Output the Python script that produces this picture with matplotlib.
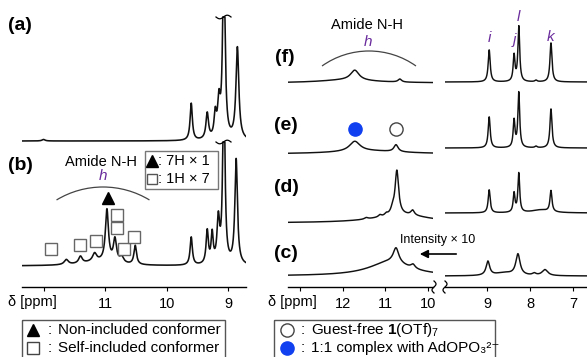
import numpy as np
import matplotlib.pyplot as plt
from matplotlib.patches import Arc, Rectangle

plt.rcParams['font.family'] = ['Liberation Sans', 'DejaVu Sans']
plt.rcParams['mathtext.fontset'] = 'custom'
plt.rcParams['mathtext.rm'] = 'Liberation Sans'
plt.rcParams['mathtext.it'] = 'Liberation Sans:italic'
plt.rcParams['mathtext.bf'] = 'Liberation Sans:bold'

# peak lists: (ppm, height, half width in ppm)
spec_a = [(12.0, 1.5, 0.03), (9.60, 37, 0.022), (9.34, 26, 0.025), (9.21, 23, 0.022),
          (9.15, 34, 0.025), (9.07, 200, 0.022), (8.85, 92, 0.028)]
spec_b = [(11.1, 4, 0.35), (11.63, 5, 0.04), (11.40, 7, 0.035), (11.17, 8, 0.04),
          (10.97, 52, 0.03), (10.84, 23, 0.03), (10.73, 6, 0.04), (10.51, 19, 0.025),
          (9.60, 28, 0.022), (9.34, 33, 0.022), (9.26, 29, 0.02), (9.16, 43, 0.025),
          (9.07, 200, 0.02), (8.87, 105, 0.025)]

# right panel: amide region (x10 for c) and aromatic region
f_nh = [(11.9, 3, 0.8), (11.72, 10, 0.12), (10.66, 3, 0.05)]
f_ar = [(8.95, 32, 0.028), (8.37, 26, 0.025), (8.26, 55, 0.025), (7.86, 1.5, 0.03), (7.51, 39, 0.028)]
e_nh = [(11.4, 3, 1.0), (11.72, 10, 0.15), (10.75, 7, 0.06)]
e_ar = [(8.95, 31, 0.028), (8.37, 27, 0.025), (8.26, 55, 0.025), (7.86, 1.5, 0.03), (7.51, 39, 0.028)]
d_nh = [(10.6, 8, 0.8), (11.45, 1.5, 0.05), (11.13, 2, 0.04), (10.98, 2, 0.04),
        (10.83, 5, 0.05), (10.73, 44, 0.05), (10.36, 5, 0.05)]
d_ar = [(8.95, 23, 0.028), (8.37, 19, 0.025), (8.26, 39, 0.025), (7.75, 3, 0.25), (7.51, 21, 0.028)]
c_nh = [(10.9, 14, 0.6), (10.75, 15, 0.08), (10.35, 4, 0.06)]
c_ar = [(8.98, 14, 0.05), (8.6, 3, 0.25), (8.28, 21, 0.06), (7.9, 2, 0.05), (7.65, 6, 0.08)]

amide_sq_ppm = [11.88, 11.41, 11.15, 10.81, 10.81, 10.69, 10.53]
amide_sq_y = [38, 42, 46, 72, 59, 38, 50]
proton_labels = ['i', 'j', 'l', 'k']
proton_ppm = [8.95, 8.37, 8.27, 7.51]
proton_y = [249, 247, 270, 250]

W, H = 587, 357
AX_Y = 287          # pixel row of the ppm axis
CLIP = 124


def lorentz(x, peaks):
    y = np.zeros_like(x)
    for p, h, w in peaks:
        y += h / (1 + ((x - p) / w) ** 2)
    return y


def px_axes(x0, x1, lim):
    ax = fig.add_axes([x0 / W, (H - AX_Y) / H, (x1 - x0) / W, AX_Y / H])
    ax.set_xlim(*lim)
    ax.set_ylim(0, AX_Y)
    ax.patch.set_visible(False)
    for s in ['top', 'left', 'right']:
        ax.spines[s].set_visible(False)
    ax.spines['bottom'].set_linewidth(1.0)
    ax.set_yticks([])
    ax.tick_params(axis='x', direction='out', length=3, width=0.8, pad=4, labelsize=10.5)
    return ax


fig = plt.figure(figsize=(W / 100, H / 100), dpi=100)

# left panel
axL = px_axes(22, 246, (12.35, 8.71))
axL.set_xticks([12, 11, 10, 9], ['', '11', '10', '9'])
x = np.linspace(12.35, 8.71, 3000)
axL.plot(x, 146 + np.minimum(lorentz(x, spec_a), CLIP), color='#111', lw=1.15)
axL.plot(x, 21 + np.minimum(lorentz(x, spec_b), CLIP), color='#111', lw=1.15)
axL.plot(amide_sq_ppm, amide_sq_y, ls='none', marker='s', ms=8, mfc='white', mec='#666', mew=1.0)
axL.plot([10.95], [89], ls='none', marker='^', ms=9, color='black')

# right panel, broken axis
axR1 = px_axes(288, 433, (13.29, 9.88))
axR1.set_xticks([13, 12, 11, 10], ['', '12', '11', '10'])
axR2 = px_axes(445, 587, (9.98, 6.67))
axR2.set_xticks([9, 8, 7], ['9', '8', '7'])
x1 = np.linspace(13.29, 9.88, 2000)
x2 = np.linspace(9.98, 6.67, 2000)
for nh, ar, off1, off2 in [(f_nh, f_ar, 204, 205), (e_nh, e_ar, 133, 139),
                           (d_nh, d_ar, 64, 74), (c_nh, c_ar, 11, 11)]:
    axR1.plot(x1, off1 + lorentz(x1, nh), color='#111', lw=1.05)
    axR2.plot(x2, off2 + lorentz(x2, ar), color='#111', lw=1.05)
axR1.plot([11.72], [158], ls='none', marker='o', ms=9.5, color='#1040f0')
axR1.plot([10.75], [158], ls='none', marker='o', ms=9.5, mfc='white', mec='#444', mew=1.0)
for lab, p, yy in zip(proton_labels, proton_ppm, proton_y):
    axR2.text(p, yy, lab, color='#6a2c9c', style='italic', fontsize=11, ha='center', va='center')

# overlay in pixel units for labels and decorations
ov = fig.add_axes([0, 0, 1, 1], zorder=10)
ov.set_xlim(0, W)
ov.set_ylim(H, 0)
ov.axis('off')

for lab, xx, yy in [('(a)', 20, 25), ('(b)', 20, 165), ('(f)', 285, 57),
                    ('(e)', 286, 125), ('(d)', 286, 188), ('(c)', 286, 253)]:
    ov.text(xx, yy, lab, fontsize=14, fontweight='bold', ha='center', va='center')

ov.text(101, 162, 'Amide N-H', fontsize=10.5, ha='center', va='center')
ov.text(103, 176, 'h', fontsize=11, style='italic', color='#6a2c9c', ha='center', va='center')
ov.add_patch(Arc((103, 276.7), 179.4, 179.4, theta1=238.8, theta2=301.2, color='#444', lw=0.9))
ov.text(367, 25, 'Amide N-H', fontsize=10.5, ha='center', va='center')
ov.text(368, 42, 'h', fontsize=11, style='italic', color='#6a2c9c', ha='center', va='center')
ov.add_patch(Arc((369, 132.1), 162.2, 162.2, theta1=234.6, theta2=305.4, color='#444', lw=0.9))

# small legend in (b)
ov.add_patch(Rectangle((145, 151), 73, 38, fill=False, ec='#777', lw=1.0))
ov.plot([152], [161], marker='^', ms=8, color='black')
ov.text(158, 161, ': 7H \u00d7 1', fontsize=10.5, va='center')
ov.plot([152], [179], marker='s', ms=7, mfc='white', mec='#555', mew=1.0)
ov.text(158, 179, ': 1H \u00d7 7', fontsize=10.5, va='center')

# clipped peak marks
t = np.linspace(0, 1, 40)
for yc in [17, 142]:
    ov.plot(216 + 15 * t, yc + 1.8 * np.sin(2 * np.pi * t), color='black', lw=0.9)
# axis break marks
s = np.linspace(0, 1, 40)
for xc in [434, 445]:
    ov.plot(xc + 2 * np.sin(2 * np.pi * s), 281 + 12 * s, color='black', lw=0.9)

ov.text(438, 240, 'Intensity \u00d7 10', fontsize=9, ha='center', va='center')
ov.annotate('', xy=(417, 254), xytext=(459, 254),
            arrowprops=dict(arrowstyle='-|>', color='black', lw=1.2, mutation_scale=12))

ov.text(8, 302, '\u03b4 [ppm]', fontsize=10.5, va='center')
ov.text(268, 302, '\u03b4 [ppm]', fontsize=10.5, va='center')

# bottom legends
ov.add_patch(Rectangle((22, 320), 203, 40, fill=False, ec='#555', lw=1.0))
ov.plot([33], [330], marker='^', ms=8.5, color='black')
ov.plot([33], [348], marker='s', ms=8, mfc='white', mec='#444', mew=1.0)
ov.text(50, 330, ':', fontsize=11, ha='center', va='center')
ov.text(50, 348, ':', fontsize=11, ha='center', va='center')
ov.text(58, 330, 'Non-included conformer', fontsize=11, va='center')
ov.text(58, 348, 'Self-included conformer', fontsize=11, va='center')

ov.add_patch(Rectangle((274, 320), 221, 40, fill=False, ec='#555', lw=1.0))
ov.plot([287], [330], marker='o', ms=9.5, mfc='white', mec='#444', mew=1.0)
ov.plot([287], [348], marker='o', ms=9.5, color='#1040f0')
ov.text(303, 330, ':', fontsize=11, ha='center', va='center')
ov.text(303, 348, ':', fontsize=11, ha='center', va='center')
ov.text(311, 330, r'Guest-free $\mathbf{1}$(OTf)$_7$', fontsize=11, va='center')
ov.text(311, 348, '1:1 complex with AdOPO\u2083\u00b2\u207b', fontsize=11, va='center')

fig.savefig('out.png', dpi=100)
